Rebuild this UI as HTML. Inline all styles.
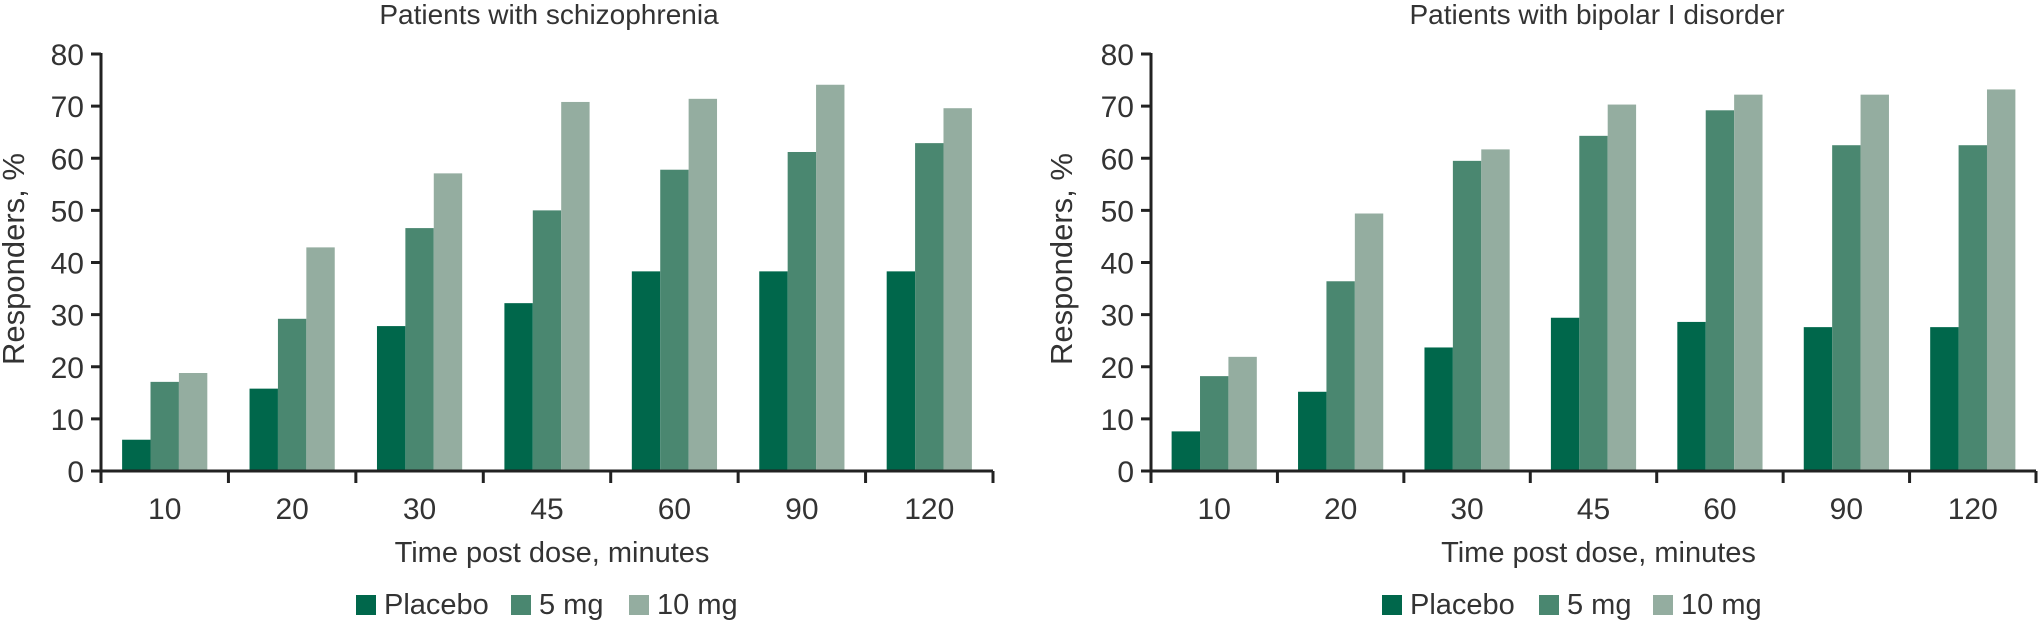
<!DOCTYPE html>
<html><head><meta charset="utf-8"><style>
html,body{margin:0;padding:0;background:#fff;}
svg{display:block;font-family:"Liberation Sans",sans-serif;}
</style></head><body>
<svg id="chart" width="2038" height="620" viewBox="0 0 2038 620" xmlns="http://www.w3.org/2000/svg"></svg>
<script>
const categories = ["10","20","30","45","60","90","120"];
const yTicks = [0,10,20,30,40,50,60,70,80];
const seriesNames = ["Placebo","5 mg","10 mg"];
const schizPlacebo = [6.0,15.8,27.8,32.2,38.3,38.3,38.3];
const schiz5mg = [17.1,29.2,46.6,50.0,57.8,61.2,62.9];
const schiz10mg = [18.8,42.9,57.1,70.8,71.4,74.1,69.6];
const bipPlacebo = [7.6,15.2,23.7,29.4,28.6,27.6,27.6];
const bip5mg = [18.2,36.4,59.5,64.3,69.2,62.5,62.5];
const bip10mg = [21.9,49.4,61.7,70.3,72.2,72.2,73.2];

const colors = ["#00674b","#4a8770","#94ada0"];
const svg = document.getElementById('chart');
const NS = "http://www.w3.org/2000/svg";
function mk(tag, attrs, parent){
  const e = document.createElementNS(NS, tag);
  for (const k in attrs) e.setAttribute(k, attrs[k]);
  (parent||svg).appendChild(e);
  return e;
}
function drawPanel(opts){
  const g = mk('g', {});
  
  
  const x0 = opts.x0, x1 = opts.x1, yTop = 54, yBot = 471, yMax = 80;
  const yScale = v => yBot - (v / yMax) * (yBot - yTop);
  const cw = (x1 - x0) / categories.length;
  const bw = 28.4;
  const xBand = i => x0 + i * cw;
  const t = mk('text', {x: opts.titleX, y: 24, 'text-anchor': 'middle', 'font-size': 28, fill: '#333'}, g);
  t.textContent = opts.title;
  
  
  const series = opts.series;
  series.forEach((vals, s) => {
    vals.forEach((v, i) => {
      const bx = xBand(i) + (cw - 3 * bw) / 2 + s * bw;
      const r = mk('rect', {x: bx, y: yScale(v), width: bw, height: yBot - yScale(v), fill: colors[s]}, g);
      
      
    });
  });
  const ya = mk('line', {x1: x0, y1: yTop - 1, x2: x0, y2: yBot + 1, stroke: '#222', 'stroke-width': 3}, g);
  
  
  const xa = mk('line', {x1: x0 - 1, y1: yBot, x2: x1, y2: yBot, stroke: '#222', 'stroke-width': 3}, g);
  
  
  yTicks.forEach(v => {
    mk('line', {x1: x0 - 10, y1: yScale(v), x2: x0, y2: yScale(v), stroke: '#222', 'stroke-width': 3}, g);
    const lt = mk('text', {x: x0 - 17, y: yScale(v) + 11, 'text-anchor': 'end', 'font-size': 30, fill: '#333'}, g);
    lt.textContent = v;
    
    
  });
  for (let i = 0; i <= categories.length; i++) {
    mk('line', {x1: xBand(i), y1: yBot, x2: xBand(i), y2: yBot + 12, stroke: '#222', 'stroke-width': 3}, g);
  }
  categories.forEach((c, i) => {
    const lt = mk('text', {x: xBand(i) + cw / 2, y: 519, 'text-anchor': 'middle', 'font-size': 30, fill: '#333'}, g);
    lt.textContent = c;
    
    
  });
  const xt = mk('text', {x: (x0 + x1) / 2 + 5, y: 562, 'text-anchor': 'middle', 'font-size': 29, fill: '#333'}, g);
  xt.textContent = 'Time post dose, minutes';
  
  
  const yt = mk('text', {x: 0, y: 0, 'text-anchor': 'middle', 'font-size': 31, fill: '#333', transform: 'translate(' + opts.yTitleX + ',259) rotate(-90)'}, g);
  yt.textContent = 'Responders, %';
  
  
  seriesNames.forEach((n, s) => {
    const sq = mk('rect', {x: opts.legSq[s], y: 595, width: 20, height: 20, fill: colors[s]}, g);
    
    
    const lt = mk('text', {x: opts.legSq[s] + 28, y: 614, 'font-size': 29, fill: '#333'}, g);
    lt.textContent = n;
    
    
  });
}
drawPanel({name: 'schizophrenia-chart', title: 'Patients with schizophrenia', x0: 101, x1: 993, titleX: 549, yTitleX: 24,
  series: [schizPlacebo, schiz5mg, schiz10mg], legSq: [356, 511, 629]});
drawPanel({name: 'bipolar-chart', title: 'Patients with bipolar I disorder', x0: 1151, x1: 2036, titleX: 1597, yTitleX: 1072,
  series: [bipPlacebo, bip5mg, bip10mg], legSq: [1382, 1539, 1653]});
</script>
</body></html>
